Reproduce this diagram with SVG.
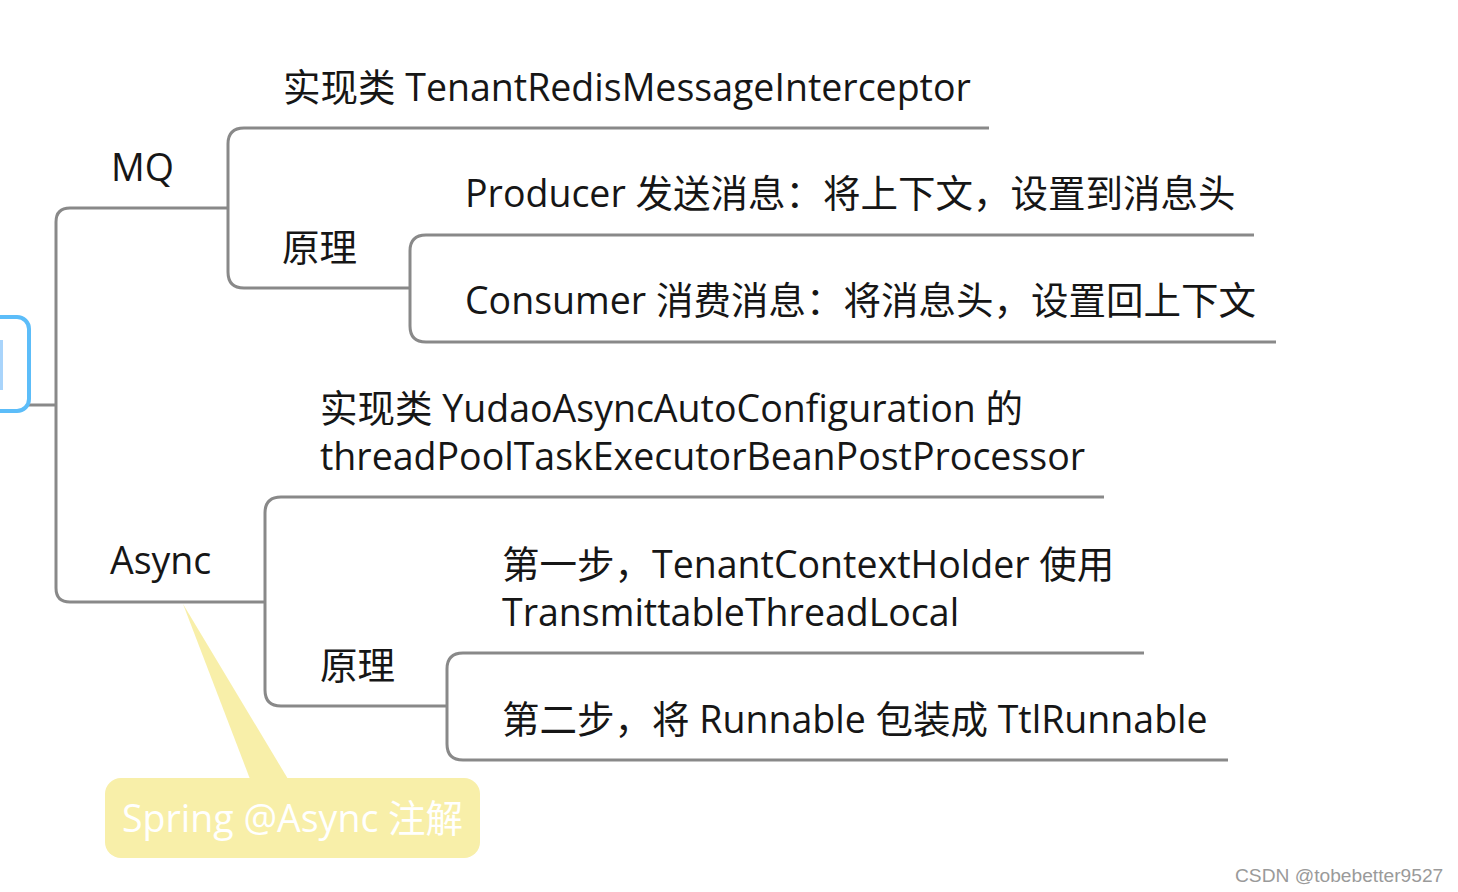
<svg xmlns="http://www.w3.org/2000/svg" width="1458" height="892" viewBox="0 0 1458 892">
<style>
.ln{fill:none;stroke:#898989;stroke-width:3}
.t{font-family:"Open Sans","Noto Sans CJK SC",sans-serif;font-size:37.5px;fill:#161616}
.wm{font-family:"Liberation Sans",Arial,sans-serif;font-size:19.2px;fill:#9a9a9a}
</style>
<rect width="1458" height="892" fill="#ffffff"/>
<g id="connectors">
<path class="ln" d="M0 405 H56"/>
<path class="ln" d="M228 208 H70 Q56 208 56 222 V588 Q56 602 70 602 H265"/>
<path class="ln" d="M989 128 H244 Q228 128 228 144 V272 Q228 288 244 288 H410"/>
<path class="ln" d="M1254 235 H426 Q410 235 410 251 V326 Q410 342 426 342 H1276"/>
<path class="ln" d="M1104 497 H281 Q265 497 265 513 V690 Q265 706 281 706 H447"/>
<path class="ln" d="M1144 653 H463 Q447 653 447 669 V744 Q447 760 463 760 H1228"/>
</g>
<g id="root">
<rect x="-20" y="317" width="49" height="94" rx="12" fill="#ffffff" stroke="#5cbdf9" stroke-width="4"/>
<rect x="0" y="340" width="3" height="50" fill="#a9d4fb"/>
</g>
<g id="mq"><text class="t" x="111" y="181">MQ</text></g>
<g id="mq-impl"><text class="t" x="283" y="101">实现类 TenantRedisMessageInterceptor</text></g>
<g id="mq-principle"><text class="t" x="282" y="261">原理</text></g>
<g id="mq-producer"><text class="t" x="465" y="207">Producer 发送消息：将上下文，设置到消息头</text></g>
<g id="mq-consumer"><text class="t" x="465" y="314">Consumer 消费消息：将消息头，设置回上下文</text></g>
<g id="async"><text class="t" x="110" y="574">Async</text></g>
<g id="async-impl"><text class="t" x="320" y="422">实现类 YudaoAsyncAutoConfiguration 的</text><text class="t" x="320" y="470">threadPoolTaskExecutorBeanPostProcessor</text></g>
<g id="async-principle"><text class="t" x="320" y="679">原理</text></g>
<g id="async-step1"><text class="t" x="502" y="578">第一步，TenantContextHolder 使用</text><text class="t" x="502" y="626">TransmittableThreadLocal</text></g>
<g id="async-step2"><text class="t" x="502" y="733">第二步，将 Runnable 包装成 TtlRunnable</text></g>
<g id="callout">
<path d="M183 604 L250 779 L288 779 Z" fill="#f8efa9"/>
<rect x="105" y="778" width="375" height="80" rx="16" fill="#f8efa9"/>
<text class="t" x="122" y="832" style="fill:#ffffff">Spring @Async 注解</text>
</g>
<text class="wm" x="1235" y="882">CSDN @tobebetter9527</text>
</svg>
